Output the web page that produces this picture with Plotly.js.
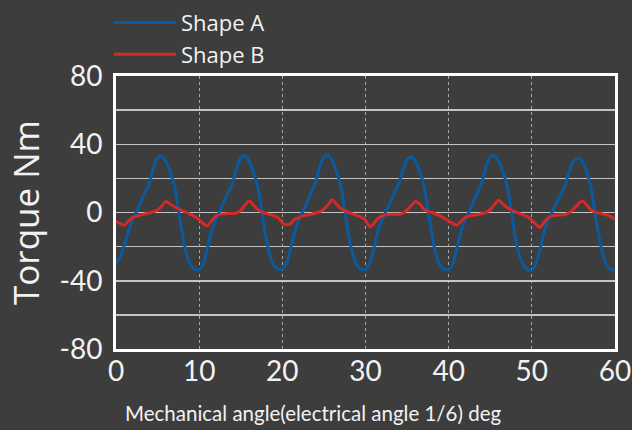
<!DOCTYPE html>
<html>
<head>
<meta charset="utf-8">
<script src="https://cdn.plot.ly/plotly-3.0.1.min.js"></script>
<style>
html,body{margin:0;padding:0;background:#3d3d3d;}
#chart{width:632px;height:430px;}
</style>
</head>
<body>
<div id="chart"></div>
<script>
// Mechanical angle (deg), sampled every 0.5 deg
var angle = [
 0,0.5,1,1.5,2,2.5,3,3.5,4,4.5,5,5.5,6,6.5,7,7.5,8,8.5,9,9.5,
 10,10.5,11,11.5,12,12.5,13,13.5,14,14.5,15,15.5,16,16.5,17,17.5,18,18.5,19,19.5,
 20,20.5,21,21.5,22,22.5,23,23.5,24,24.5,25,25.5,26,26.5,27,27.5,28,28.5,29,29.5,
 30,30.5,31,31.5,32,32.5,33,33.5,34,34.5,35,35.5,36,36.5,37,37.5,38,38.5,39,39.5,
 40,40.5,41,41.5,42,42.5,43,43.5,44,44.5,45,45.5,46,46.5,47,47.5,48,48.5,49,49.5,
 50,50.5,51,51.5,52,52.5,53,53.5,54,54.5,55,55.5,56,56.5,57,57.5,58,58.5,59,59.5,
 60
];

// Torque (Nm) of Shape A
var shapeA = [
 -30,-26,-19,-11,-4,1,6.5,12,17,26,32,33,30,24,16,2,-13,-25,-31,-33.3,
 -33.6,-30,-21,-11,-4,1,6.5,12,17,26,32,33.4,30,24,16,2,-14,-25,-31,-33,
 -33,-30,-21,-11,-4,1,6.5,12,17.5,27,32.5,33.6,30.5,24,16,2,-14,-25,-31,-33.3,
 -33.6,-30,-21,-11,-4,1,6,11.5,17,25,31,32.4,30,24,16,2,-13,-25,-31,-33.3,
 -33.6,-30,-21,-11,-4,1,6.5,12,17.5,27,32.5,33.4,30,24,16,2,-14,-25,-31,-33.5,
 -34,-30,-21,-11,-4,1,6,11,16,24,30,31.5,30.5,25,17,3,-12,-24,-31,-33.5,
 -34
];

// Torque (Nm) of Shape B
var shapeB = [
 -4.9,-6.5,-7.4,-5,-3,-2.2,-1.4,-0.8,-0.2,0.5,1.5,3.8,6.4,5,3.5,2.2,1,0,-1.2,-2.5,
 -4.2,-6.5,-7.8,-4.8,-2,-1.2,-0.8,-0.6,-0.6,-0.3,1.2,4.2,6.8,4.5,2,0.5,-0.5,-1.2,-2,-3,
 -6,-7.2,-6.5,-4,-3,-2,-1.5,-1,-0.3,0.5,2,4.5,7.5,5,2.5,1,0,-1,-1.8,-2.8,
 -4.5,-8.3,-6.5,-3.5,-2,-1.3,-1,-1,-1,-0.5,1.5,4,6.4,5,2,0.8,0,-1,-2,-3.5,
 -5,-6.5,-7.4,-5,-3,-2,-1.6,-1.2,-0.6,0,1.8,4.5,7.2,5,3,1.5,0.5,-0.5,-1.5,-2.5,
 -4.5,-7,-8.7,-5.5,-3,-2,-1.6,-1.4,-1.2,0,2,4.5,6.8,5,2,0.5,-0.2,-0.8,-1.4,-2.5,
 -3.9
];

var seriesNames = ['Shape A', 'Shape B'];
var xTickVals = [0, 10, 20, 30, 40, 50, 60];
var yTickVals = [-80, -40, 0, 40, 80];
var xTitle = 'Mechanical angle(electrical angle 1/6) deg';
var yTitle = 'Torque Nm';

var fontFam = 'Lato, "Open Sans", sans-serif';
var wideFam = '"Open Sans", Lato, sans-serif';
var txt = '#f2f2f2';

var traces = [
  {x: angle, y: shapeA, name: seriesNames[0], type: 'scatter', mode: 'lines',
   legendgroup: 'a',
   line: {color: '#0a5aa0', width: 3, shape: 'spline', smoothing: 0.8}},
  {x: angle, y: shapeB, name: seriesNames[1], type: 'scatter', mode: 'lines',
   legendgroup: 'b',
   line: {color: '#d42a26', width: 3, shape: 'spline', smoothing: 0.8}}
];

var layout = {
  width: 632, height: 430,
  paper_bgcolor: '#3d3d3d', plot_bgcolor: '#3d3d3d',
  margin: {l: 116, r: 17, t: 76, b: 81, autoexpand: false},
  font: {family: fontFam, color: txt},
  showlegend: true,
  legend: {x: -0.014, xanchor: 'left', y: 1.272, yanchor: 'top',
           font: {size: 22, color: txt, family: wideFam}, bgcolor: 'rgba(0,0,0,0)',
           traceorder: 'grouped', tracegroupgap: 0, itemwidth: 62},
  xaxis: {
    range: [0, 60], tickmode: 'array', tickvals: xTickVals,
    ticktext: xTickVals.map(String),
    showgrid: true, gridcolor: '#a8a8a8', gridwidth: 1, griddash: '3px,3px',
    zeroline: false, showline: true, linecolor: '#ffffff', linewidth: 3, mirror: true,
    ticks: '', tickfont: {size: 28, color: txt}, ticklabelstandoff: -5
  },
  yaxis: {
    range: [-80, 80], tickmode: 'array', tickvals: yTickVals,
    ticktext: yTickVals.map(String),
    showgrid: true, gridcolor: '#c4c4c4', gridwidth: 1.5,
    minor: {dtick: 20, tick0: 0, showgrid: true, gridcolor: '#c4c4c4', gridwidth: 1.5},
    zeroline: false, showline: true, linecolor: '#ffffff', linewidth: 3, mirror: true,
    ticks: '', tickfont: {size: 28, color: txt}, ticklabelstandoff: 5,
    title: {text: yTitle, font: {size: 35, color: txt, family: wideFam}, standoff: 10}
  },
  annotations: [
    {text: xTitle, xref: 'paper', yref: 'paper', x: 0.395, xanchor: 'center',
     y: -0.234, yanchor: 'middle', showarrow: false,
     font: {size: 20.5, color: txt, family: fontFam}}
  ]
};

Plotly.newPlot('chart', traces, layout, {displayModeBar: false, staticPlot: true});
</script>
</body>
</html>
